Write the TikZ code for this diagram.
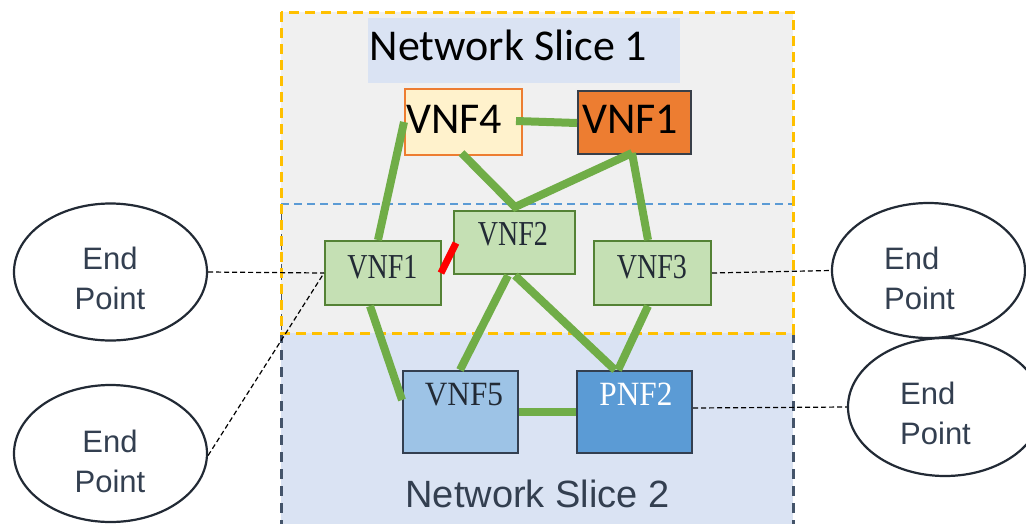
\documentclass[tikz,border=0pt]{standalone}
\usepackage{fontspec}
\usetikzlibrary{calc,shapes.geometric}
\newfontfamily\calib{Carlito}
\newfontfamily\tnr[FakeStretch=0.8]{Liberation Serif}
\newfontfamily\tnrb[FakeStretch=0.92]{Liberation Serif}
\newfontfamily\arial{Liberation Sans}
\definecolor{slicegray}{HTML}{F0F0F0}
\definecolor{slicebl}{HTML}{DAE3F3}
\definecolor{orgdash}{HTML}{FFC000}
\definecolor{bldash}{HTML}{5B9BD5}
\definecolor{darkdash}{HTML}{44546A}
\definecolor{lgreen}{HTML}{70AD47}
\definecolor{boxgreen}{HTML}{C5E0B4}
\definecolor{boxgreenb}{HTML}{548235}
\definecolor{boxcream}{HTML}{FFF2CC}
\definecolor{orng}{HTML}{ED7D31}
\definecolor{lblue}{HTML}{9DC3E6}
\definecolor{mblue}{HTML}{5B9BD5}
\definecolor{navy}{HTML}{333F50}
\definecolor{inkd}{HTML}{222A35}
\tikzset{
  box/.style={draw, line width=2pt, inner sep=0pt},
  gbox/.style={box, fill=boxgreen, draw=boxgreenb},
  bbox/.style={box, draw=navy},
  link/.style={draw=lgreen, line width=8pt},
  conn/.style={draw=black, line width=1.2pt, dash pattern=on 5pt off 3pt},
  endpt/.style={ellipse, draw=inkd, line width=2.2pt, inner sep=0pt},
  eptext/.style={font=\arial\fontsize{31}{40}\selectfont, text=navy, inner sep=0pt, anchor=north},
  midlbl/.style={font=\tnr\fontsize{35}{40}\selectfont, text=inkd, inner sep=0pt, anchor=base},
  botlbl/.style={font=\tnrb\fontsize{34}{40}\selectfont, inner sep=0pt, anchor=base},
  toplbl/.style={font=\calib\fontsize{44}{50}\selectfont, text=black, inner sep=0pt, anchor=base},
}
\begin{document}
\begin{tikzpicture}[x=1pt,y=-1pt]
\clip (0,0) rectangle (1026,523);
\fill[white] (0,0) rectangle (1026,523);
% slice regions
\fill[slicegray] (281,12) rectangle (793,333);
\fill[slicebl] (281,333) rectangle (793,530);
\draw[darkdash, line width=3pt, dash pattern=on 10pt off 7pt] (281,333) -- (281,530);
\draw[darkdash, line width=3pt, dash pattern=on 10pt off 7pt] (793,333) -- (793,530);
\draw[darkdash, line width=0.8pt, dash pattern=on 6pt off 4pt] (281,204) -- (281,333);
\draw[bldash, line width=1.8pt, dash pattern=on 8pt off 5pt] (281,204) -- (793,204);
\draw[orgdash, line width=3pt, dash pattern=on 10pt off 6pt] (281,12) rectangle (793,333);
% title
\node[fill=slicebl, minimum width=312pt, minimum height=65pt, inner sep=0pt] (title) at (524,50.5) {};
\node[toplbl] (titlel) at (508.5,60) {Network Slice 1};
\node[font=\arial\fontsize{38}{44}\selectfont, text=navy, inner sep=0pt, anchor=base] (slice2) at (537.5,507) {Network Slice 2};
% boxes
\node[box, fill=boxcream, draw=orng, minimum width=117pt, minimum height=66pt] (vnf4) at (463.5,122) {};
\node[box, fill=orng, draw=inkd!90, minimum width=113pt, minimum height=63pt] (vnf1t) at (634.5,122.5) {};
\node[gbox, minimum width=116pt, minimum height=64pt] (vnf1m) at (383,273) {};
\node[gbox, minimum width=121pt, minimum height=63pt] (vnf2) at (514.5,242.5) {};
\node[gbox, minimum width=117pt, minimum height=64pt] (vnf3) at (652.5,273) {};
\node[bbox, fill=lblue, minimum width=115pt, minimum height=82pt] (vnf5) at (460.5,412) {};
\node[bbox, fill=mblue, minimum width=115pt, minimum height=82pt] (pnf2) at (634.5,412) {};
% labels
\node[toplbl] (vnf4l) at (454,133) {VNF4};
\node[toplbl] (vnf1tl) at (630,133) {VNF1};
\node[midlbl] (vnf1ml) at (382.5,278) {VNF1};
\node[midlbl] (vnf2l) at (513,245) {VNF2};
\node[midlbl] (vnf3l) at (652,278) {VNF3};
\node[botlbl, text=inkd] (vnf5l) at (464,405) {VNF5};
\node[botlbl, text=white] (pnf2l) at (636,405) {PNF2};
% links
\coordinate (vmeet) at ($(vnf2.north)+(0.5,-3)$);
\coordinate (v1tb) at ($(vnf1t.south)+(-2.5,-2)$);
\draw[link] ($(vnf4.east)+(-7,-1)$) -- ($(vnf1t.west)+(0,0.5)$);
\draw[link] (vnf4.west) -- ($(vnf1m.north)+(-5,0)$);
\draw[link, line join=miter] ($(vnf4.south)+(-2,-3)$) -- (vmeet) -- (v1tb);
\draw[link] (v1tb) -- ($(vnf3.north)+(-4.5,0)$);
\draw[link] ($(vnf1m.south)+(-13,0)$) -- ($(vnf5.west)+(0,-12)$);
\draw[link] ($(vnf2.south)+(-6.5,0.5)$) -- ($(vnf5.north)+(-0.5,0)$);
\draw[link] ($(vnf2.south)+(0.5,0.5)$) -- ($(pnf2.north)+(-19.5,0)$);
\draw[link] ($(vnf3.south)+(-4.5,0)$) -- ($(pnf2.north)+(-16.5,0)$);
\draw[link] (vnf5.east) -- (pnf2.west);
\draw[draw=red, line width=7pt] ($(vnf1m.east)+(-1,0)$) -- ($(vnf2.west)+(3,0.5)$);
% end points
\node[endpt, minimum width=193pt, minimum height=137pt] (ep1) at (110.5,272) {};
\node[endpt, minimum width=193pt, minimum height=137pt] (ep2) at (110.5,453.5) {};
\node[endpt, minimum width=193pt, minimum height=135pt] (ep3) at (928.5,270.5) {};
\node[endpt, minimum width=194pt, minimum height=138pt] (ep4) at (945,407) {};
\node[eptext, align=center] (ep1t) at (110,247) {End\\Point};
\node[eptext, align=center] (ep2t) at (110,430) {End\\Point};
\node[eptext, align=left, anchor=north west] (ep3t) at (884,247) {End\\Point};
\node[eptext, align=left, anchor=north west] (ep4t) at (900,382) {End\\Point};
% dashed connectors
\draw[conn] (ep1.east) -- (vnf1m.west);
\draw[conn] ($(ep2.east)+(0,2)$) -- (vnf1m.west);
\draw[conn] (vnf3.east) -- (ep3.west);
\draw[conn] ($(pnf2.east)+(0,-4)$) -- (ep4.west);
\end{tikzpicture}
\end{document}
